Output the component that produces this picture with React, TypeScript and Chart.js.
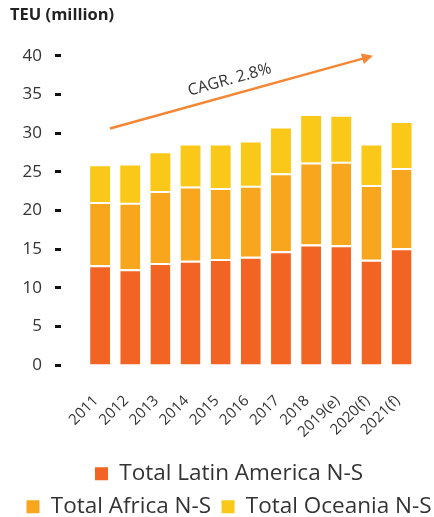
import React, { useEffect, useRef } from 'react';
import { Chart, registerables } from 'chart.js';

Chart.register(...registerables);

const categories = ['2011', '2012', '2013', '2014', '2015', '2016', '2017', '2018', '2019(e)', '2020(f)', '2021(f)'];
const latinAmerica = [12.9, 12.4, 13.2, 13.5, 13.7, 14.0, 14.7, 15.6, 15.5, 13.6, 15.1];
const africa = [8.2, 8.6, 9.3, 9.6, 9.2, 9.2, 10.1, 10.6, 10.8, 9.7, 10.4];
const oceania = [4.6, 4.8, 4.9, 5.3, 5.5, 5.6, 5.8, 6.0, 5.8, 5.1, 5.8];
const seriesNames = ['Total Latin America N-S', 'Total Africa N-S', 'Total Oceania N-S'];
const yMin = 0;
const yMax = 40;
const yStep = 5;
const titleText = 'TEU (million)';
const cagrLabel = 'CAGR. 2.8%';
const cagrStart = { x: 0.33, y: 30.6 };
const cagrEnd = { x: 9.05, y: 40 };

const FONT = '"Open Sans"';
const TITLE_INSET = 10;
const LEGEND_SHIFT = 12;

const cagrPlugin = {
  id: 'cagrArrow',
  afterDatasetsDraw(chart: any) {
    const { ctx, scales } = chart;
    const xs = scales.x;
    const ys = scales.y;
    const x1 = xs.getPixelForValue(cagrStart.x);
    const y1 = ys.getPixelForValue(cagrStart.y);
    const x2 = xs.getPixelForValue(cagrEnd.x);
    const y2 = ys.getPixelForValue(cagrEnd.y);
    const ang = Math.atan2(y2 - y1, x2 - x1);
    const head = 11;
    ctx.save();
    ctx.strokeStyle = '#F58634';
    ctx.fillStyle = '#F58634';
    ctx.lineWidth = 2.5;
    ctx.beginPath();
    ctx.moveTo(x1, y1);
    ctx.lineTo(x2 - Math.cos(ang) * head * 0.8, y2 - Math.sin(ang) * head * 0.8);
    ctx.stroke();
    ctx.beginPath();
    ctx.moveTo(x2, y2);
    ctx.lineTo(x2 - head * Math.cos(ang) + 5.5 * Math.sin(ang), y2 - head * Math.sin(ang) - 5.5 * Math.cos(ang));
    ctx.lineTo(x2 - head * Math.cos(ang) - 5.5 * Math.sin(ang), y2 - head * Math.sin(ang) + 5.5 * Math.cos(ang));
    ctx.closePath();
    ctx.fill();
    const mx = x1 + (x2 - x1) * 0.47;
    const my = y1 + (y2 - y1) * 0.47;
    ctx.translate(mx, my);
    ctx.rotate(ang);
    ctx.fillStyle = '#333333';
    ctx.font = `16px ${FONT}`;
    ctx.textAlign = 'center';
    ctx.textBaseline = 'bottom';
    ctx.fillText(cagrLabel, 0, -7);
    ctx.restore();
  },
};

const layoutTweak = {
  id: 'layoutTweak',
  afterLayout(chart: any) {
    if (chart.titleBlock) {
      chart.titleBlock.left += TITLE_INSET;
    }
    if (chart.legend) {
      chart.legend.left += LEGEND_SHIFT;
      chart.legend.right += LEGEND_SHIFT;
    }
  },
};

export default function App() {
  const ref = useRef<HTMLCanvasElement | null>(null);

  useEffect(() => {
    if (!ref.current) return;
    const chart = new Chart(ref.current, {
      type: 'bar',
      data: {
        labels: categories,
        datasets: [
          {
            label: seriesNames[0],
            data: latinAmerica,
            backgroundColor: '#F26424',
            borderColor: '#FFFFFF',
            borderWidth: { top: 2, left: 0, right: 0, bottom: 0 },
            borderSkipped: false,
          },
          {
            label: seriesNames[1],
            data: africa,
            backgroundColor: '#F8A61D',
            borderColor: '#FFFFFF',
            borderWidth: { top: 2, left: 0, right: 0, bottom: 0 },
            borderSkipped: false,
          },
          {
            label: seriesNames[2],
            data: oceania,
            backgroundColor: '#F9C818',
            borderWidth: 0,
          },
        ],
      },
      options: {
        animation: false,
        responsive: true,
        maintainAspectRatio: false,
        datasets: { bar: { barPercentage: 0.66, categoryPercentage: 1 } },
        layout: { padding: { left: 0, right: 0, top: 0, bottom: 0 } },
        plugins: {
          title: {
            display: true,
            text: titleText,
            align: 'start',
            color: '#222222',
            font: { family: FONT, size: 16.5, weight: 'bold' },
            padding: { top: 5, bottom: 31 },
          },
          legend: {
            position: 'bottom',
            labels: {
              boxWidth: 13,
              boxHeight: 13,
              padding: 10.5,
              color: '#333333',
              font: { family: FONT, size: 22.5 },
              generateLabels: (c: any) =>
                Chart.defaults.plugins.legend.labels.generateLabels(c).map((l: any) => ({ ...l, lineWidth: 0 })),
            },
          },
          tooltip: { enabled: false },
        },
        scales: {
          x: {
            stacked: true,
            grid: { display: false },
            border: { display: false },
            afterFit: (s: any) => {
              s.height = 87;
            },
            ticks: {
              autoSkip: false,
              minRotation: 45,
              maxRotation: 45,
              padding: 19,
              labelOffset: -4,
              color: '#333333',
              font: { family: FONT, size: 15 },
            },
          },
          y: {
            stacked: true,
            min: yMin,
            max: yMax,
            afterFit: (s: any) => {
              s.width = 85;
            },
            ticks: {
              stepSize: yStep,
              padding: 13,
              color: '#333333',
              font: { family: FONT, size: 17 },
            },
            grid: {
              drawOnChartArea: false,
              drawTicks: true,
              tickLength: 30,
              tickWidth: 3,
              tickColor: '#111111',
              tickBorderDash: [6, 40],
              tickBorderDashOffset: 0,
            },
            border: { display: false },
          },
          yRight: {
            position: 'right',
            display: true,
            grid: { display: false, drawTicks: false },
            border: { display: false },
            ticks: { display: false },
            afterFit: (s: any) => {
              s.width = 15;
            },
          },
        },
      },
      plugins: [cagrPlugin, layoutTweak],
    });
    return () => chart.destroy();
  }, []);

  return (
    <div style={{ position: 'fixed', left: 0, top: 0, width: 434, height: 528 }}>
      <canvas ref={ref} />
    </div>
  );
}
